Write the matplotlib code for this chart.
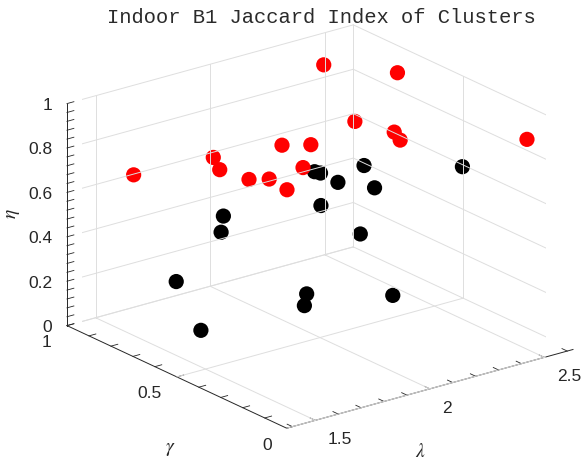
import numpy as np
import matplotlib
matplotlib.use('Agg')
import matplotlib.pyplot as plt
from matplotlib.ticker import FuncFormatter

plt.rcParams['font.family'] = ['Liberation Sans', 'DejaVu Sans']
plt.rcParams['mathtext.fontset'] = 'stix'

# cluster parameters (lambda, gamma, eta)
red_lam = [1.57, 1.63, 1.85, 1.69, 1.97, 1.76, 1.93, 1.96, 1.83, 2.40, 2.53, 2.44, 2.42, 2.35, 2.52]
red_gam = [0.9, 0.6, 0.8, 0.5, 0.7, 0.4, 0.6, 0.5, 0.4, 0.9, 0.7, 0.8, 0.6, 0.5, 0.1]
red_eta = [0.67, 0.87, 0.66, 0.80, 0.63, 0.78, 0.84, 0.88, 0.86, 0.93, 0.95, 0.71, 0.76, 0.79, 0.93]

blk_lam = [1.66, 1.48, 1.77, 1.76, 2.36, 2.29, 2.27, 2.10, 2.48, 2.43, 2.08, 1.75, 1.74, 2.03, 2.43]
blk_gam = [0.8, 0.5, 0.7, 0.7, 0.9, 0.8, 0.7, 0.6, 0.8, 0.7, 0.4, 0.3, 0.3, 0.2, 0.3]
blk_eta = [0.21, 0.18, 0.52, 0.45, 0.46, 0.52, 0.53, 0.52, 0.50, 0.46, 0.49, 0.36, 0.31, 0.32, 0.74]

lam_lim = (1.375, 2.625)
gam_lim = (0, 1)
eta_lim = (0, 1)

lam_major = [1.5, 2.0, 2.5]
gam_major = [0, 0.5, 1]
eta_major = [0, 0.2, 0.4, 0.6, 0.8, 1.0]

lam_minor = np.round(np.arange(1.4, 2.61, 0.1), 2)
gam_minor = np.round(np.arange(0, 1.01, 0.1), 2)
eta_minor = np.round(np.arange(0, 1.001, 0.04), 2)

axis_col = '#262626'
grid_col = '#dedede'

fig = plt.figure(figsize=(5.82, 4.64), dpi=100)
ax = fig.add_axes([0.1404, -0.0039, 0.7973, 1.0], projection='3d', proj_type='ortho')
ax.view_init(elev=21, azim=-127.5)
ax.set_box_aspect((1, 1, 0.659), zoom=1.178)
ax.computed_zorder = False

ax.set_xlim(*lam_lim)
ax.set_ylim(*gam_lim)
ax.set_zlim(*eta_lim)


def major_only(majors):
    def fmt(v, pos):
        for m in majors:
            if abs(v - m) < 1e-6:
                return '%g' % m
        return ''
    return FuncFormatter(fmt)


# every minor position gets a tick mark, only the majors get a label
for axis, ticks, majors, pad, ha, va in [(ax.xaxis, lam_minor, lam_major, 1.8, 'left', 'center'),
                                         (ax.yaxis, gam_minor, gam_major, 1.2, 'right', 'center'),
                                         (ax.zaxis, eta_minor, eta_major, -3, 'right', 'center_baseline')]:
    axis.set_ticks(ticks)
    axis.set_major_formatter(major_only(majors))
    axis.set_pane_color((1, 1, 1, 1))
    axis.line.set_color(axis_col)
    axis.line.set_linewidth(0.7)
    axis._axinfo['tick']['inward_factor'] = 0.0
    axis._axinfo['tick']['outward_factor'] = 0.3
    axis._axinfo['tick']['linewidth'] = {True: 0.6, False: 0.6}
    axis._axinfo['axisline']['color'] = axis_col
    axis.set_tick_params(labelsize=12.5, colors=axis_col, pad=pad)
    for t in axis.get_major_ticks():
        t.label1.set_horizontalalignment(ha)
        t.label1.set_verticalalignment(va)

ax.grid(False)

# grid on the back walls and the floor
lo, hi = lam_lim
for v in lam_major:
    ax.plot([v, v], [0, 1], [0, 0], color=grid_col, lw=0.7)
    ax.plot([v, v], [1, 1], [0, 1], color=grid_col, lw=0.7)
for v in gam_major:
    ax.plot([lo, hi], [v, v], [0, 0], color=grid_col, lw=0.7)
    ax.plot([hi, hi], [v, v], [0, 1], color=grid_col, lw=0.7)
for v in eta_major:
    ax.plot([lo, hi], [1, 1], [v, v], color=grid_col, lw=0.7)
    ax.plot([hi, hi], [0, 1], [v, v], color=grid_col, lw=0.7)

ax.scatter(blk_lam, blk_gam, blk_eta, s=120, c='k', depthshade=False, edgecolors='none')
ax.scatter(red_lam, red_gam, red_eta, s=120, c='r', depthshade=False, edgecolors='none')

fig.text(0.0229, 0.5403, r'$\eta$', fontsize=14, rotation=90, ha='center', va='center', color=axis_col)
fig.text(0.2921, 0.0302, r'$\gamma$', fontsize=14, ha='center', va='center', color=axis_col)
fig.text(0.7229, 0.0265, r'$\lambda$', fontsize=14, ha='center', va='center', color=axis_col)

fig.text(0.553, 0.963, 'Indoor B1 Jaccard Index of Clusters', family='Liberation Mono',
         fontsize=14.8, ha='center', va='center', color='#2a2a2a')

fig.savefig('out.png')
